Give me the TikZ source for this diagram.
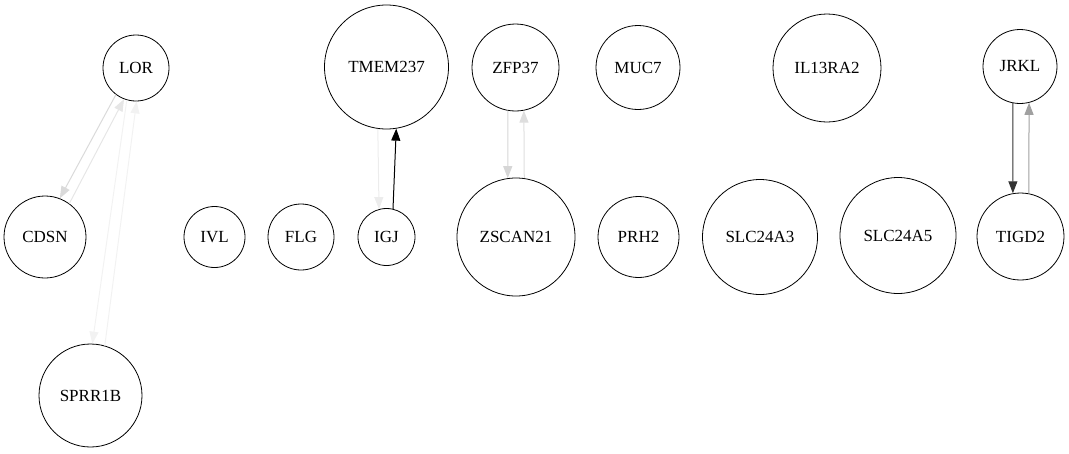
\documentclass[tikz,border=0pt]{standalone}
\usepackage{fontspec}
\setmainfont{Liberation Serif}
\usepackage{tikz}
\usetikzlibrary{arrows.meta}
\usepackage{xcolor}
\definecolor{palegray}{RGB}{218,218,218}
\definecolor{palergray}{RGB}{230,230,230}
\definecolor{ghostgray}{RGB}{242,242,242}
\definecolor{mistgray}{RGB}{236,236,236}
\definecolor{softgray}{RGB}{214,214,214}
\definecolor{lightgray2}{RGB}{222,222,222}
\definecolor{darkgray2}{RGB}{51,51,51}
\definecolor{midgray}{RGB}{160,160,160}

\tikzset{
    gene/.style={circle,draw,line width=0.8pt,inner sep=0pt,font=\fontsize{17}{20}\selectfont},
    link/.style={line width=1pt,-{Triangle[length=12pt,width=9pt]}}
}

\begin{document}
\begin{tikzpicture}[x=1pt,y=-1pt]
        \useasboundingbox (0,0) rectangle (1069,453);

        % Top row
        \node[gene,minimum size=66pt] (LOR) at (136,68) {LOR};
        \node[gene,minimum size=124pt] (TMEM237) at (386.5,67) {TMEM237};
        \node[gene,minimum size=87pt] (ZFP37) at (515.5,67.5) {ZFP37};
        \node[gene,minimum size=84pt] (MUC7) at (638,67.5) {MUC7};
        \node[gene,minimum size=108pt] (IL13RA2) at (827,68) {IL13RA2};
        \node[gene,minimum size=74pt] (JRKL) at (1020,66.5) {JRKL};

        % Middle row
        \node[gene,minimum size=82pt] (CDSN) at (45,237) {CDSN};
        \node[gene,minimum size=61pt] (IVL) at (214.5,237) {IVL};
        \node[gene,minimum size=66pt] (FLG) at (301,237) {FLG};
        \node[gene,minimum size=57pt] (IGJ) at (386.5,237) {IGJ};
        \node[gene,minimum size=118pt] (ZSCAN21) at (516,237) {ZSCAN21};
        \node[gene,minimum size=81pt] (PRH2) at (638.5,237) {PRH2};
        \node[gene,minimum size=115pt] (SLC24A3) at (760,237) {SLC24A3};
        \node[gene,minimum size=116pt] (SLC24A5) at (898,235.5) {SLC24A5};
        \node[gene,minimum size=87pt] (TIGD2) at (1020.5,236.5) {TIGD2};

        % Bottom row
        \node[gene,minimum size=103pt] (SPRR1B) at (90.5,395.5) {SPRR1B};

        % Links
        \draw[link,palegray] (LOR.233) -- (CDSN.69);
        \draw[link,palergray] (CDSN.54) -- (LOR.249);
        \draw[link,ghostgray] (LOR.254) -- (SPRR1B.88);
        \draw[link,ghostgray] (SPRR1B.74) -- (LOR.271);
        \draw[link,mistgray] (TMEM237.262) -- (IGJ.105);
        \draw[link,black] (IGJ.77) -- (TMEM237.279);
        \draw[link,softgray] (ZFP37.260) -- (ZSCAN21.98);
        \draw[link,lightgray2] (ZSCAN21.82) -- (ZFP37.281);
        \draw[link,darkgray2] (JRKL.259) -- (TIGD2.100);
        \draw[link,midgray] (TIGD2.79) -- (JRKL.284);
    \end{tikzpicture}
\end{document}
